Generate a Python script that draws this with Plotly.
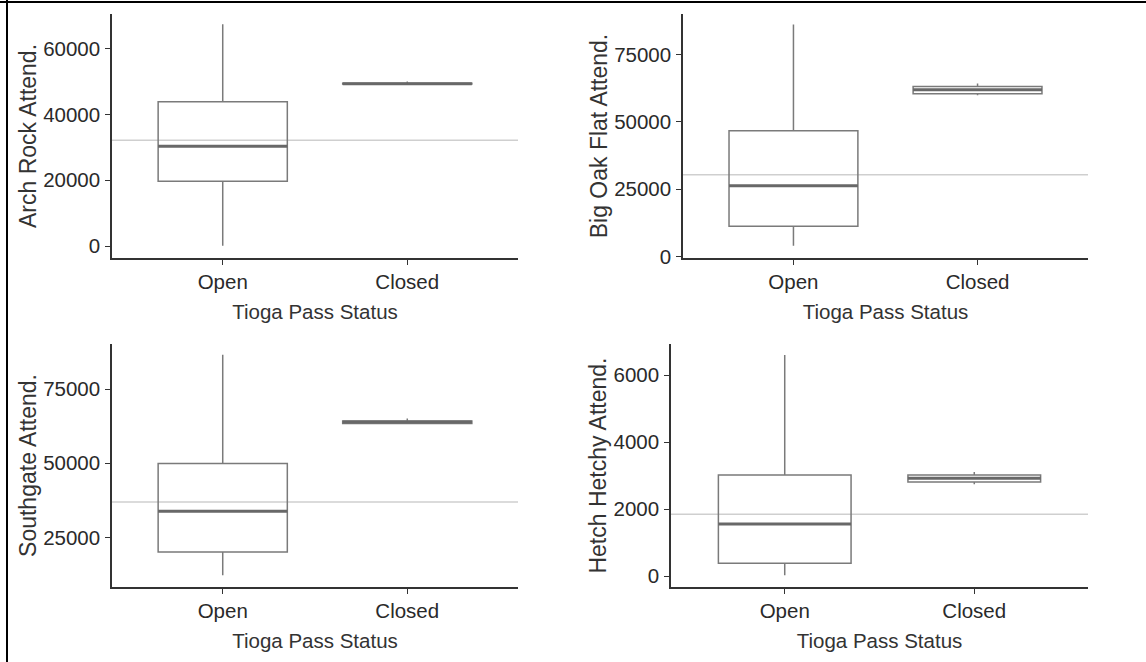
import plotly.graph_objects as go

W, H = 1146, 662

categories = ["Open", "Closed"]

# five-number summaries per panel: [Open, Closed]
arch_low = [100, 49200]
arch_q1 = [19700, 49300]
arch_med = [30400, 49400]
arch_q3 = [43900, 49500]
arch_high = [67500, 50100]
arch_mean = 32200

oak_low = [4100, 59800]
oak_q1 = [11300, 60400]
oak_med = [26300, 61900]
oak_q3 = [46700, 63100]
oak_high = [86100, 64200]
oak_mean = 30400

south_low = [12200, 63200]
south_q1 = [20100, 63400]
south_med = [33800, 63900]
south_q3 = [49900, 64300]
south_high = [86600, 65100]
south_mean = 36900

hetch_low = [30, 2745]
hetch_q1 = [390, 2815]
hetch_med = [1560, 2925]
hetch_q3 = [3020, 3025]
hetch_high = [6600, 3110]
hetch_mean = 1850

y_titles = ["Arch Rock Attend.", "Big Oak Flat Attend.", "Southgate Attend.", "Hetch Hetchy Attend."]
x_title = "Tioga Pass Status"

y_ticks = [
    [0, 20000, 40000, 60000],
    [0, 25000, 50000, 75000],
    [25000, 50000, 75000],
    [0, 2000, 4000, 6000],
]
y_ranges = [
    [-3636, 70600],
    [-480, 89950],
    [8250, 90260],
    [-320, 6930],
]

# panel pixel boxes (left, right, top, bottom)
panels_px = [
    (112, 518, 14, 258),
    (683, 1088, 14, 258),
    (112, 518, 344, 587),
    (671, 1088, 344, 587),
]

stats = [
    (arch_low, arch_q1, arch_med, arch_q3, arch_high, arch_mean),
    (oak_low, oak_q1, oak_med, oak_q3, oak_high, oak_mean),
    (south_low, south_q1, south_med, south_q3, south_high, south_mean),
    (hetch_low, hetch_q1, hetch_med, hetch_q3, hetch_high, hetch_mean),
]

FONT = "Arial, Liberation Sans, sans-serif"
BOX_COL = "#7a7a7a"
MED_COL = "#686868"
AXIS_COL = "#333333"

fig = go.Figure()
layout = {}
shapes = []

for i, (px, st, yt, yr, ttl) in enumerate(zip(panels_px, stats, y_ticks, y_ranges, y_titles)):
    n = "" if i == 0 else str(i + 1)
    xa, ya = "x" + n, "y" + n
    low, q1, med, q3, high, mean = st
    fig.add_trace(go.Box(
        x=categories, lowerfence=low, q1=q1, median=med, q3=q3, upperfence=high,
        xaxis=xa, yaxis=ya, width=0.7, whiskerwidth=0, boxpoints=False,
        line=dict(color=BOX_COL, width=1.5), fillcolor="rgba(0,0,0,0)",
        showlegend=False, hoverinfo="skip",
    ))
    fig.add_trace(go.Box(
        x=categories, lowerfence=med, q1=med, median=med, q3=med, upperfence=med,
        xaxis=xa, yaxis=ya, width=0.7, whiskerwidth=0, boxpoints=False,
        line=dict(color=MED_COL, width=3), fillcolor="rgba(0,0,0,0)",
        showlegend=False, hoverinfo="skip",
    ))
    shapes.append(dict(type="line", xref=xa + " domain", yref=ya, x0=0, x1=1, y0=mean, y1=mean,
                       line=dict(color="#cfcfcf", width=1.5), layer="below"))
    l, r, t, b = px
    common = dict(showgrid=False, zeroline=False, showline=True, linecolor=AXIS_COL, linewidth=1.5,
                  ticks="outside", ticklen=5, tickwidth=1.2, tickcolor=AXIS_COL, automargin=False,
                  tickfont=dict(family=FONT, size=20.5, color="#2a2a2a"))
    layout["xaxis" + n] = dict(
        domain=[l / W, r / W], anchor=ya, type="category", range=[-0.6, 1.6],
        categoryorder="array", categoryarray=categories,
        title=dict(text=x_title, font=dict(family=FONT, size=20.5, color="#333333"), standoff=12),
        **common)
    layout["yaxis" + n] = dict(
        domain=[1 - b / H, 1 - t / H], anchor=xa, range=yr, tickvals=yt,
        ticktext=[str(v) for v in yt], ticklabelstandoff=1,
        title=dict(text=ttl, font=dict(family=FONT, size=23, color="#333333"), standoff=0),
        **common)

# outer frame (left and top edges)
shapes.append(dict(type="line", xref="paper", yref="paper", x0=7 / W, x1=7 / W, y0=0, y1=1,
                   line=dict(color="black", width=2)))
shapes.append(dict(type="line", xref="paper", yref="paper", x0=0, x1=1, y0=1 - 2 / H, y1=1 - 2 / H,
                   line=dict(color="black", width=2)))

fig.update_layout(
    template="none",
    width=W, height=H, margin=dict(l=0, r=0, t=0, b=0),
    paper_bgcolor="white", plot_bgcolor="white", showlegend=False,
    shapes=shapes, **layout,
)

fig.write_html("out.html", config={"displayModeBar": False},
               post_script="document.body.style.margin='0';document.body.style.overflow='hidden';")
